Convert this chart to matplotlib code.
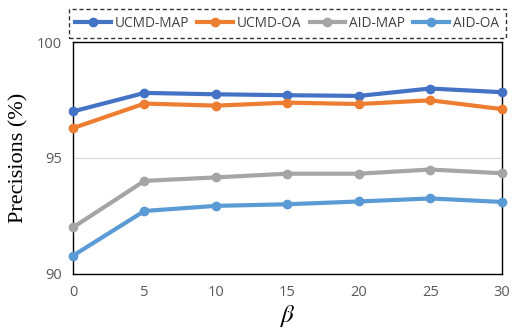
import matplotlib
matplotlib.use("Agg")
import matplotlib.pyplot as plt

plt.rcParams["mathtext.fontset"] = "stix"

beta = [0, 5, 10, 15, 20, 25, 30]
ucmd_map = [97.01, 97.81, 97.75, 97.71, 97.68, 98.00, 97.84]
ucmd_oa = [96.29, 97.35, 97.26, 97.39, 97.33, 97.49, 97.11]
aid_map = [92.00, 94.01, 94.16, 94.32, 94.32, 94.50, 94.34]
aid_oa = [90.78, 92.71, 92.93, 93.00, 93.12, 93.25, 93.10]
series_names = ["UCMD-MAP", "UCMD-OA", "AID-MAP", "AID-OA"]
colors = ["#4472C4", "#ED7D31", "#A5A5A5", "#5B9BD5"]

fig = plt.figure(figsize=(5.31, 3.35), dpi=100)
ax = fig.add_axes([0.1375, 0.183, 0.8075, 0.691])

lines = []
for vals, name, c in zip([ucmd_map, ucmd_oa, aid_map, aid_oa], series_names, colors):
    ln, = ax.plot(beta, vals, color=c, lw=3, marker="o", ms=6, label=name, zorder=3, clip_on=False)
    lines.append(ln)

ax.set_xlim(0, 30)
ax.set_ylim(90, 100)
ax.set_xticks(beta)
ax.set_yticks([90, 95, 100])
ax.grid(axis="y", color="#D9D9D9", lw=0.8)
ax.set_axisbelow(True)
for s in ax.spines.values():
    s.set_color("black")
    s.set_linewidth(1.0)
ax.tick_params(length=0, labelsize=10.5, labelcolor="#595959", pad=8)
for lab in ax.get_xticklabels() + ax.get_yticklabels():
    lab.set_family("Open Sans")

ax.set_ylabel("Precisions (%)", family="Liberation Serif", fontsize=16, labelpad=6)
ax.set_xlabel(r"$\beta$", fontsize=18, labelpad=2)

leg = fig.legend(handles=lines, loc="upper center", bbox_to_anchor=(0.5405, 0.993), ncol=4,
                 frameon=True, fancybox=False, prop={"family": "Open Sans", "size": 9.8},
                 handlelength=2.6, handletextpad=0.3, columnspacing=0.6, borderpad=0.5)
fr = leg.get_frame()
fr.set_edgecolor("black")
fr.set_linestyle((0, (3, 2)))
fr.set_linewidth(1.0)
for t in leg.get_texts():
    t.set_color("#404040")

fig.savefig("out.png", dpi=100)
